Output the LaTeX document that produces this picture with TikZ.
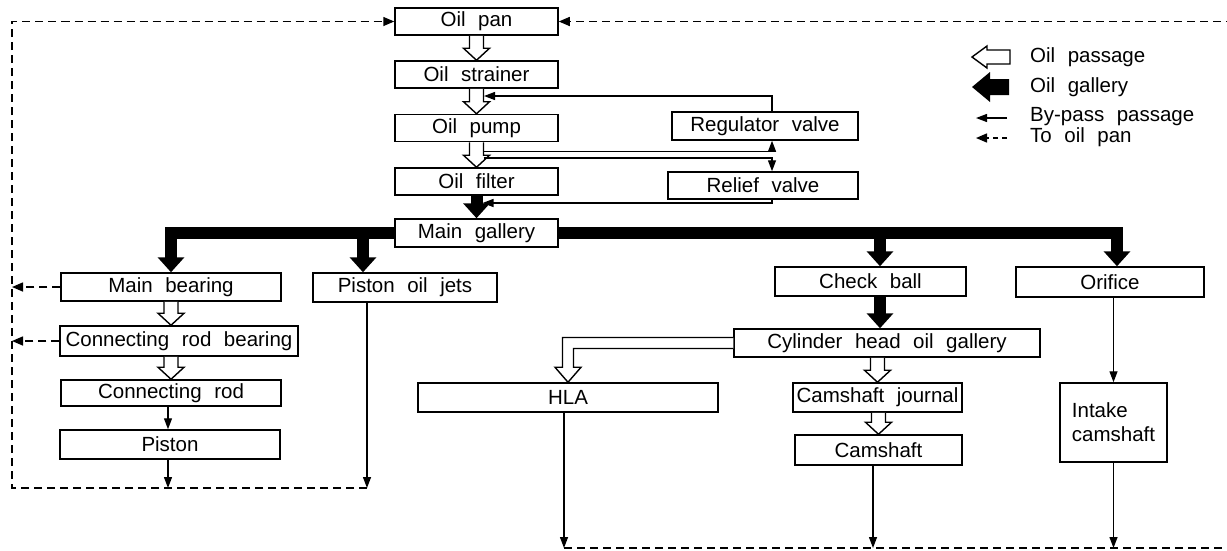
\documentclass[tikz,border=0pt]{standalone}
\usepackage{fontspec}
\setmainfont{Liberation Sans}[WordSpace=2.2]
\usetikzlibrary{arrows.meta,calc}
\begin{document}
\begin{tikzpicture}[x=1pt,y=-1pt,
  font=\fontsize{20.5pt}{24pt}\selectfont,
  box/.style={draw, line width=1.5pt, inner sep=1pt, minimum height=27pt, fill=white},
  thin/.style={line width=1.3pt, -{Triangle[length=11pt,width=8pt]}},
  ret/.style={line width=1.5pt, dash pattern=on 8pt off 5pt},
  rettip/.style={-{Triangle[length=11pt,width=9pt]}},
  galarrow/.style={line width=12pt, line join=miter, -{Triangle[length=15pt,width=26pt]}},
  hollow/.style={draw=black, fill=white, line width=1.4pt, line join=miter,
    to path={let \p1=(\tikztostart), \p2=(\tikztotarget) in
      (\x2-7pt,\y1) -- (\x2-7pt,\y2+12pt) -- (\x2-13pt,\y2+12pt) -- (\x2,\y2)
      -- (\x2+13pt,\y2+12pt) -- (\x2+7pt,\y2+12pt) -- (\x2+7pt,\y1)}}
]
\useasboundingbox (0,0) rectangle (1227,550);

% central column
\node[box,minimum width=163pt] (pan) at (476.5,21.5) {Oil pan};
\node[box,minimum width=163pt] (str) at (476.5,74.5) {Oil strainer};
\node[box,minimum width=163pt] (pump) at (476.5,128) {Oil pump};
\node[box,minimum width=163pt] (filt) at (476.5,181.5) {Oil filter};
\node[box,minimum width=163pt,minimum height=28pt] (mg) at (476.5,233) {Main gallery};
\node[box,minimum width=186pt,minimum height=28pt] (reg) at (765,126) {Regulator valve};
\node[box,minimum width=190pt] (rel) at (763,185.5) {Relief valve};

% left column
\node[box,minimum width=220pt,minimum height=28pt] (mb) at (171,287) {Main bearing};
\node[box,minimum width=238pt,minimum height=30pt] (crb) at (179,341) {Connecting rod bearing};
\node[box,minimum width=220pt,minimum height=26pt] (crod) at (171,393) {Connecting rod};
\node[box,minimum width=220pt,minimum height=29pt] (pis) at (170,444.5) {Piston};
\node[box,minimum width=184pt,minimum height=29pt] (jets) at (405,287.5) {Piston oil jets};

% right part
\node[box,minimum width=191pt,minimum height=29pt] (cb) at (870.5,281.5) {Check ball};
\node[box,minimum width=188pt,minimum height=30pt] (ori) at (1110,282) {Orifice};
\node[box,minimum width=306pt,minimum height=28pt] (cyl) at (887,343) {Cylinder head oil gallery};
\node[box,minimum width=300pt,minimum height=29pt] (hla) at (568,397.5) {HLA};
\node[box,minimum width=169pt,minimum height=29pt] (cj) at (877.5,397.5) {Camshaft journal};
\node[box,minimum width=167pt,minimum height=30pt] (cam) at (878.5,450) {Camshaft};
\node[box,minimum width=107pt,minimum height=79pt,align=left] (ic) at (1113.5,422.5) {Intake\\camshaft};

% hollow arrows (oil passage)
\draw[hollow] (pan.south) to (str.north);
\draw[hollow] (str.south) to (pump.north);
\draw[hollow] (pump.south) to (filt.north);
\draw[hollow] (mb.south) to (mb.south |- crb.north);
\draw[hollow] (crod.north |- crb.south) to (crod.north);
\draw[hollow] (cj.north |- cyl.south) to (cj.north);
\draw[hollow] (cj.south) to (cam.north);
\draw[line width=1.4pt, fill=white, line join=miter]
  let \p1=(cyl.west), \p2=(hla.north) in
  (\x1,\y1+5.5pt) -- (\x2-5.5pt,\y1+5.5pt) -- (\x2-5.5pt,\y2+15pt) -- (\x2-13pt,\y2+15pt)
  -- (\p2) -- (\x2+13pt,\y2+15pt) -- (\x2+5.5pt,\y2+15pt) -- (\x2+5.5pt,\y1-5.5pt) -- (\x1,\y1-5.5pt);

% gallery (thick black)
\draw[galarrow] (filt.south) -- (mg.north);
\draw[galarrow] (mg.west) -| (mb.north);
\draw[galarrow] (mg.west) -| ([xshift=-42pt]jets.north);
\draw[galarrow] (mg.east) -| ([xshift=9.5pt]cb.north);
\draw[galarrow] (mg.east) -| ([xshift=7pt]ori.north);
\draw[galarrow] ([xshift=9.5pt]cb.south) -- ([xshift=9.5pt]cb.south |- cyl.north);

% by-pass passages
\coordinate (a1) at (484,96);
\coordinate (b1) at (483.5,151.5);
\coordinate (b2) at (483.5,158);
\coordinate (c1) at (482.5,203);
\draw[thin] ([xshift=7pt]reg.north) |- (a1);
\draw[thin] (b1) -| ([xshift=7pt]reg.south);
\draw[thin] (b2) -| ([xshift=9pt]rel.north);
\draw[thin] ([xshift=9pt]rel.south) |- (c1);

% left returns
\coordinate (lc) at (12,488);
\coordinate (jb) at (367,488);
\draw[thin] ([xshift=-2pt]pis.north |- crod.south) -- ([xshift=-2pt]pis.north);
\draw[thin] ([xshift=-2pt]pis.south) -- ([xshift=-2pt]pis.south |- lc);
\draw[thin] ([xshift=-38pt]jets.south) -- ([xshift=-38pt]jets.south |- jb);
\draw[ret,rettip] (jb) -- (lc) |- (pan.west);
\draw[ret,rettip] (mb.west) -- (mb.west -| lc);
\draw[ret,rettip] (crb.west) -- (crb.west -| lc);

% right returns
\coordinate (hb) at (564,548);
\coordinate (rb) at (1240,548);
\draw[thin] ([xshift=-4pt]hla.south) -- ([xshift=-4pt]hla.south |- hb);
\draw[thin] ([xshift=-5.5pt]cam.south) -- ([xshift=-5.5pt]cam.south |- hb);
\draw[thin] (ic.south) -- (ic.south |- hb);
\draw[thin] (ori.south -| ic.north) -- (ic.north);
\draw[ret,rettip] (hb) -- (rb) |- (pan.east);

% legend
\draw[line width=1.4pt, fill=white, line join=miter]
  (1010,50) -- (987,50) -- (987,46) -- (972,57) -- (987,68) -- (987,64) -- (1010,64) -- cycle;
\fill (1009,79) -- (990,79) -- (990,72) -- (972,87) -- (990,102) -- (990,95) -- (1009,95) -- cycle;
\draw[thin] (1007,118) -- (976,118);
\draw[ret,rettip,dash pattern=on 5pt off 4pt] (1007,138) -- (976,138);
\node[anchor=west,inner sep=0pt] (l1) at (1030,57) {Oil passage};
\node[anchor=west,inner sep=0pt] (l2) at (1030,87) {Oil gallery};
\node[anchor=west,inner sep=0pt] (l3) at (1030,117) {By-pass passage};
\node[anchor=west,inner sep=0pt] (l4) at (1030,137) {To oil pan};
\end{tikzpicture}
\end{document}
